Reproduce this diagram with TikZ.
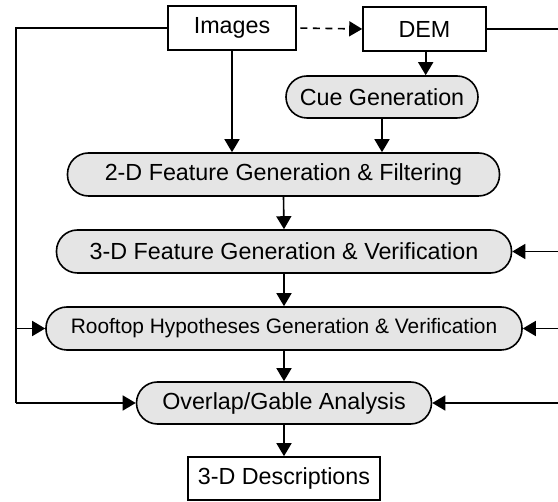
\documentclass[tikz,border=0pt]{standalone}
\usepackage{fontspec}
\setmainfont{Liberation Sans}
\usetikzlibrary{arrows.meta}
\begin{document}
\begin{tikzpicture}[x=1pt,y=-1pt,line width=1.6pt,
  arr/.style={-{Triangle[length=13pt,width=15pt]}},
  sqbox/.style={draw,rectangle,inner sep=0pt,font=\fontsize{23.3}{27}\selectfont},
  procbox/.style={draw,rectangle,rounded corners=21pt,fill=black!10,inner sep=0pt,minimum height=43pt,font=\fontsize{23.3}{27}\selectfont}]
\useasboundingbox (0,0) rectangle (558,502);
\node[sqbox,minimum width=128pt,minimum height=44pt] (img) at (232,28) {Images};
\node[sqbox,minimum width=123pt,minimum height=44pt] (dem) at (424.5,29) {DEM};
\node[procbox,minimum width=192pt,minimum height=42pt] (cue) at (382,97) {Cue Generation};
\node[procbox,minimum width=432pt] (fg2) at (283.5,174.5) {2-D Feature Generation \& Filtering};
\node[procbox,minimum width=455pt] (fg3) at (284,251.5) {3-D Feature Generation \& Verification};
\node[procbox,minimum width=476pt,font=\fontsize{20.9}{25}\selectfont] (roof) at (284,328.5) {Rooftop Hypotheses Generation \& Verification};
\node[procbox,minimum width=295pt,minimum height=42pt] (ov) at (284,403) {Overlap/Gable Analysis};
\node[sqbox,minimum width=192pt,minimum height=43pt] (desc) at (284,478.5) {3-D Descriptions};
\coordinate (ltop) at (16,28);
\coordinate (lbot) at (16,403);
\coordinate (rtop) at (563,29);
\coordinate (rbot) at (563,403);
% top connections
\draw[arr,dash pattern=on 7pt off 5.5pt,dash phase=-3.5pt] (img.east) -- (dem.west);
\draw[arr] ([xshift=1.2pt]dem.south) -- ([xshift=1.2pt]dem.south |- cue.north);
\draw[arr] (img.south) -- (img.south |- fg2.north);
\draw[arr] (cue.south) -- (cue.south |- fg2.north);
% main chain
\draw[arr] (fg2.south) -- (fg3.north);
\draw[arr] (fg3.south) -- (roof.north);
\draw[arr] (roof.south) -- (ov.north);
\draw[arr] (ov.south) -- (desc.north);
% left feedback
\draw (img.west) -- (ltop) -- (lbot);
\draw[arr] (lbot) -- (ov.west);
\draw[arr] (ltop |- roof.west) -- (roof.west);
% right feedback
\draw (dem.east) -- (rtop) -- (rbot);
\draw[arr] (rbot) -- (ov.east);
\draw[arr] (rtop |- roof.east) -- (roof.east);
\draw[arr] (rtop |- fg3.east) -- (fg3.east);
\end{tikzpicture}
\end{document}
